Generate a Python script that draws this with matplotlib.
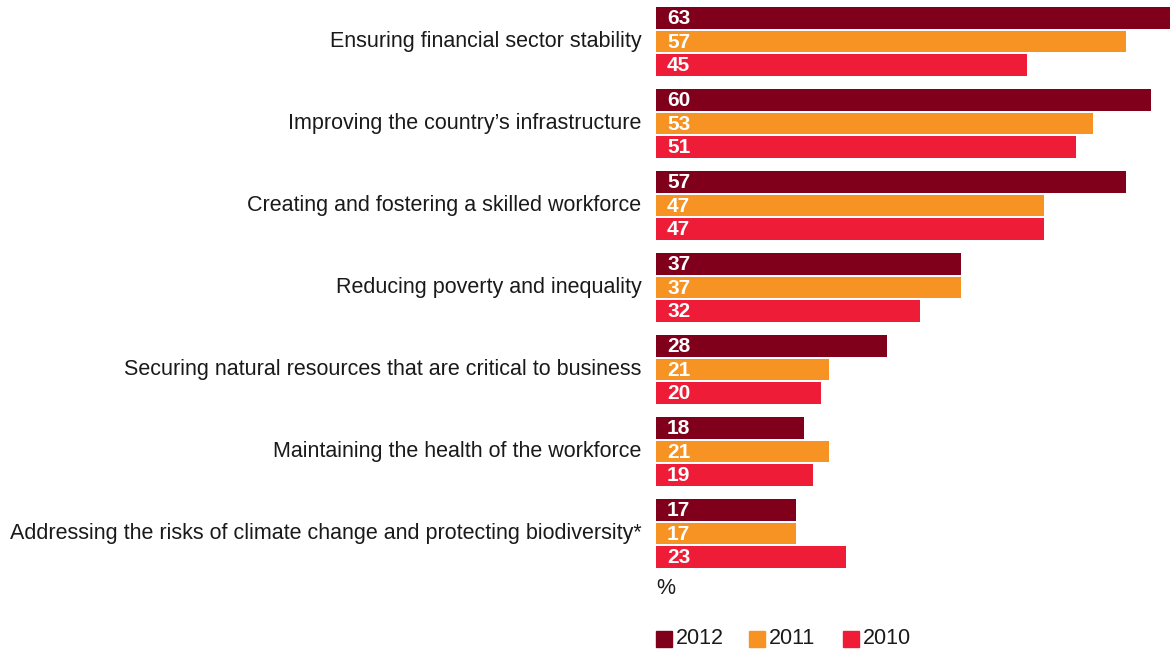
import matplotlib.pyplot as plt
from matplotlib.patches import Rectangle

plt.rcParams['font.family'] = ['Liberation Sans', 'DejaVu Sans']

categories = [
    "Ensuring financial sector stability",
    "Improving the country\u2019s infrastructure",
    "Creating and fostering a skilled workforce",
    "Reducing poverty and inequality",
    "Securing natural resources that are critical to business",
    "Maintaining the health of the workforce",
    "Addressing the risks of climate change and protecting biodiversity*",
]
years = ["2012", "2011", "2010"]
v2012 = [63, 60, 57, 37, 28, 18, 17]
v2011 = [57, 53, 47, 37, 21, 21, 17]
v2010 = [45, 51, 47, 32, 20, 19, 23]
colors = ["#80001c", "#f79322", "#ee1c37"]

W, H = 1170, 650
fig = plt.figure(figsize=(W / 100, H / 100), dpi=100)
ax = fig.add_axes([656 / W, 0, 1 - 656 / W, 1])

offsets = [-0.287, 0.0, 0.287]
bar_h = 0.258
for series, off, col in zip([v2012, v2011, v2010], offsets, colors):
    ys = [i + off for i in range(len(categories))]
    bars = ax.barh(ys, series, height=bar_h, color=col, clip_on=True)
    for b, v in zip(bars, series):
        ax.annotate(str(v), (0, b.get_y() + b.get_height() / 2),
                    xytext=(8, -0.5), textcoords='offset points',
                    ha='left', va='center', color='white',
                    fontsize=15, fontweight='bold')

ax.set_xlim(0, 514 / 8.245)
ax.set_ylim((H - 41.5) / 82, -41.5 / 82)
ax.set_yticks(range(len(categories)))
ax.set_yticklabels(categories, fontsize=15.5, color='#1a1a1a',
                   va='center')
ax.tick_params(axis='y', length=0, pad=10.5)
ax.set_xticks([])
for s in ax.spines.values():
    s.set_visible(False)

# unit note and legend below the bars
fig.text(656 / W, 1 - 588 / H, "%", fontsize=15.5, color='#1a1a1a',
         ha='left', va='center')
legend_x = [656, 749, 843]
for x0, col, yr in zip(legend_x, colors, years):
    fig.patches.append(Rectangle((x0 / W, 1 - 647 / H), 16 / W, 16 / H,
                                 transform=fig.transFigure, color=col))
    fig.text((x0 + 20) / W, 1 - 639 / H, yr, fontsize=15.5,
             color='#1a1a1a', ha='left', va='center')

fig.savefig("out.png", dpi=100)
